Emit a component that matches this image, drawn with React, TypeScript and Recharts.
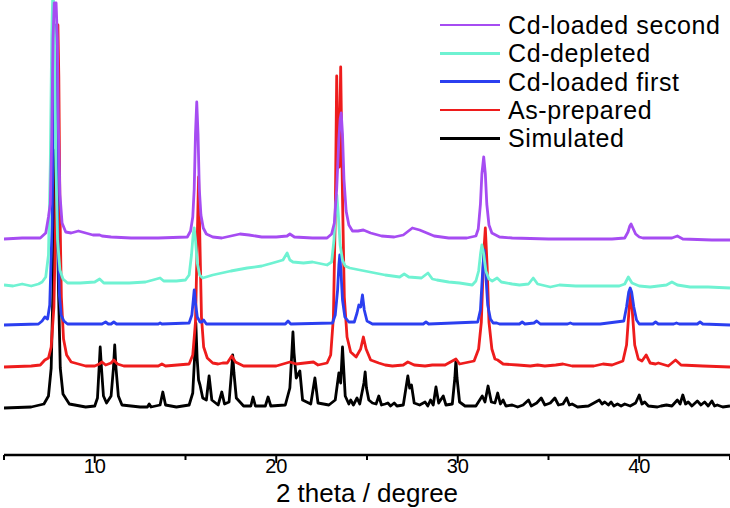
import React from 'react';
import { LineChart, Line, XAxis, YAxis } from 'recharts';

// 2-theta (degree), intensity above each pattern's own baseline (a.u.)
const simulated: [number, number][] = [
  [5, 0], [6.5, 1], [7.2, 4], [7.45, 12], [7.6, 40], [7.7, 120], [7.78, 220], [7.85, 258], [7.92, 220], [8.0, 120], [8.1, 40],
  [8.25, 14], [8.6, 4], [9.5, 1],
  [10.0, 2], [10.15, 10], [10.24, 40], [10.3, 61], [10.37, 40], [10.48, 12], [10.65, 5], [10.9, 12], [11.03, 40], [11.1, 63],
  [11.17, 40], [11.3, 12], [11.5, 3], [12.5, 1],
  [12.9, 1], [13.0, 4], [13.1, 1], [13.6, 3], [13.75, 16], [13.9, 3], [14.5, 1], [15.2, 3], [15.4, 15], [15.5, 50], [15.57, 85],
  [15.64, 50], [15.72, 28], [15.8, 23], [15.95, 10], [16.15, 8], [16.3, 32], [16.45, 8], [16.8, 3], [17.0, 16], [17.15, 4],
  [17.4, 6], [17.53, 35], [17.6, 53], [17.67, 35], [17.8, 10],
  [18.2, 2], [18.6, 2], [18.72, 11], [18.85, 2], [19.4, 2], [19.55, 11], [19.7, 2], [20.5, 3], [20.75, 20], [20.86, 55], [20.92, 76],
  [20.98, 55], [21.1, 30], [21.3, 37], [21.45, 8], [21.9, 4], [22.13, 30], [22.3, 5], [22.9, 3], [23.25, 8], [23.45, 35], [23.55, 25],
  [23.65, 61], [23.8, 12],
  [24.0, 4], [24.1, 8], [24.25, 3], [24.45, 10], [24.6, 4], [24.83, 25], [24.9, 36], [24.97, 20], [25.1, 8], [25.3, 5], [25.5, 4],
  [25.65, 12], [25.8, 3],
  [26.0, 4], [26.15, 5], [26.3, 2], [26.5, 5], [26.65, 2], [27.0, 3], [27.25, 32], [27.35, 20], [27.45, 23], [27.6, 5], [27.9, 3],
  [28.2, 6], [28.35, 2], [28.5, 8], [28.65, 3], [28.8, 21], [28.95, 5], [29.2, 12], [29.35, 3], [29.7, 4], [29.84, 30], [29.9, 48],
  [29.96, 30], [30.1, 6],
  [30.4, 2], [31.0, 2], [31.35, 12], [31.5, 6], [31.67, 22], [31.85, 6], [32.05, 5], [32.2, 15], [32.35, 4], [32.5, 8], [32.65, 2],
  [33.0, 3], [33.3, 1], [33.6, 3], [33.9, 8], [34.05, 2], [34.35, 5], [34.6, 10], [34.8, 3], [35.1, 5], [35.35, 10], [35.55, 3],
  [35.8, 4], [36.0, 10], [36.15, 3], [36.3, 4], [36.6, 1], [37.2, 2], [37.5, 5], [37.8, 8], [37.95, 4], [38.1, 6], [38.3, 3],
  [38.45, 6], [38.6, 2], [38.8, 4], [39.0, 2], [39.2, 4], [39.5, 2], [39.8, 5], [40.0, 13], [40.15, 4], [40.3, 6], [40.5, 2],
  [41.0, 1], [41.2, 2], [41.5, 3], [41.8, 2], [42.1, 8], [42.25, 4], [42.4, 13], [42.55, 4], [42.7, 6], [42.9, 2], [43.2, 7],
  [43.4, 3], [43.6, 6], [43.8, 2], [44.0, 7], [44.15, 2], [44.3, 3], [44.6, 1], [45, 2],
];

const asPrepared: [number, number][] = [
  [5, 0], [6.5, 1], [7.0, 2], [7.25, 7], [7.45, 9], [7.6, 20], [7.75, 60], [7.85, 150], [7.92, 290], [7.97, 342], [8.02, 290],
  [8.08, 160], [8.16, 70], [8.28, 28], [8.45, 12], [8.7, 5], [9.5, 1], [10.0, 1], [10.25, 3], [10.4, 5], [10.6, 2], [10.9, 4],
  [11.05, 7], [11.25, 3], [11.6, 1],
  [13.5, 1], [13.7, 3], [13.9, 1], [15.2, 3], [15.4, 12], [15.55, 45], [15.64, 120], [15.72, 190], [15.8, 120], [15.88, 50],
  [16.0, 20], [16.2, 9], [16.5, 4], [16.8, 3], [17.05, 4], [17.3, 4], [17.55, 11], [17.75, 5], [18.2, 1], [18.8, 1], [20.0, 1],
  [20.75, 5], [21.1, 3], [22.05, 5],
  [22.3, 2], [22.8, 4], [23.0, 12], [23.15, 50], [23.25, 150], [23.33, 291], [23.42, 200], [23.47, 200], [23.55, 300],
  [23.65, 170], [23.75, 70], [23.9, 30], [24.1, 15], [24.4, 10], [24.65, 18], [24.8, 30], [24.95, 18], [25.2, 7], [25.65, 4],
  [26.0, 2], [26.4, 1], [27.0, 2], [27.25, 5], [27.6, 2],
  [28.2, 1], [28.6, 2], [29.3, 2], [29.9, 8], [30.1, 3], [30.9, 6], [31.15, 18], [31.3, 45], [31.42, 110], [31.52, 139],
  [31.62, 100], [31.72, 45], [31.88, 18], [32.05, 8], [32.2, 7], [32.5, 3], [33.3, 2], [34.0, 1], [34.4, 2], [34.8, 1],
  [35.4, 2], [35.8, 3], [36.3, 1],
  [37.5, 1], [38.0, 3], [38.5, 2], [39.1, 6], [39.3, 22], [39.43, 55], [39.52, 75], [39.62, 55], [39.75, 22], [39.95, 8],
  [40.15, 6], [40.38, 12], [40.6, 4], [40.9, 3], [41.05, 4], [41.6, 1], [42.0, 7], [42.3, 2], [43.5, 1], [45, 0],
];

const cdLoadedFirst: [number, number][] = [
  [5, 0], [6.9, 1], [7.1, 4], [7.25, 8], [7.4, 6], [7.52, 20], [7.65, 100], [7.74, 240], [7.8, 300], [7.86, 240], [7.95, 100],
  [8.05, 30], [8.15, 10], [8.3, 4], [8.5, 1], [10.4, 1], [10.6, 3], [10.75, 1], [10.9, 1], [11.05, 3], [11.2, 1], [13.5, 1],
  [13.6, 2], [13.7, 1],
  [15.2, 2], [15.35, 10], [15.43, 25], [15.48, 35], [15.55, 22], [15.65, 8], [15.8, 3], [15.9, 3], [16.0, 5], [16.15, 1],
  [20.5, 1], [20.65, 4],
  [20.8, 1], [23.1, 2], [23.25, 10], [23.38, 35], [23.45, 60], [23.5, 70], [23.56, 55], [23.65, 25], [23.78, 8], [24.0, 3],
  [24.3, 3], [24.45, 12], [24.55, 20], [24.65, 18], [24.75, 30], [24.85, 15], [25.0, 4], [25.3, 1], [28.1, 1], [28.25, 3],
  [28.4, 1], [31.1, 3],
  [31.25, 15], [31.36, 50], [31.45, 75], [31.53, 55], [31.65, 20], [31.8, 6], [31.95, 2], [32.15, 2], [32.3, 1], [33.4, 1],
  [33.55, 3], [33.7, 1],
  [34.2, 2], [34.35, 4], [34.55, 1], [36.05, 1], [36.2, 2], [36.35, 1], [37.85, 1], [39.15, 4], [39.3, 18], [39.42, 33],
  [39.5, 37], [39.58, 33], [39.7, 18], [39.85, 5], [40.0, 1], [40.75, 1], [40.9, 3], [41.05, 1], [41.9, 1], [42.05, 2],
  [42.2, 1], [43.2, 1], [43.35, 3], [43.5, 1], [45, 0],
];

const cdDepleted: [number, number][] = [
  [5, 0], [5.5, -1], [6.0, 1], [6.5, -1], [6.9, 1], [7.1, 3], [7.3, 8], [7.45, 30], [7.55, 120], [7.63, 250], [7.7, 300],
  [7.78, 250], [7.86, 120], [7.95, 45], [8.08, 15], [8.25, 6], [8.5, 2], [9.2, 2], [10.0, 3], [10.27, 6], [10.5, 2], [11.2, 2],
  [11.9, 2], [12.8, 3],
  [13.6, 7], [13.8, 4], [14.5, 4], [15.0, 5], [15.2, 10], [15.33, 30], [15.42, 50], [15.48, 57], [15.55, 45], [15.65, 22],
  [15.78, 10], [15.95, 7],
  [16.5, 10], [17.5, 14], [18.4, 17], [19.2, 19], [19.8, 22], [20.37, 25], [20.6, 32], [20.75, 25], [20.92, 23], [21.5, 22],
  [22.0, 23], [22.8, 20], [23.05, 23], [23.18, 45], [23.28, 80], [23.34, 90], [23.42, 70], [23.52, 40], [23.65, 25], [23.8, 19],
  [24.05, 17], [24.6, 15],
  [25.16, 13], [26.0, 10], [26.8, 8], [27.05, 11], [27.3, 8], [28.0, 7], [28.36, 12], [28.6, 6], [28.85, 5], [29.5, 3],
  [30.1, 2], [30.8, 0], [31.0, 4], [31.15, 14], [31.26, 32], [31.33, 40], [31.42, 32], [31.55, 14], [31.72, 6], [31.9, 4],
  [32.17, 7],
  [32.4, 3], [33.0, 1], [33.4, 0], [33.9, 1], [34.16, 7], [34.4, 1], [35.1, -2], [35.6, 0], [36.5, -1], [37.8, -1], [38.9, -1],
  [39.2, 1], [39.4, 8], [39.6, 2], [40.0, -1], [40.6, -2], [41.5, 0], [41.8, 3], [42.1, 0], [42.8, -2], [43.8, -2], [45, -3],
];

const cdLoadedSecond: [number, number][] = [
  [5, 0], [6.0, 1], [7.0, 1], [7.3, 6], [7.45, 22], [7.55, 35], [7.63, 100], [7.7, 200], [7.77, 236], [7.87, 236], [7.94, 200],
  [8.0, 110], [8.08, 45], [8.2, 16], [8.4, 7], [8.7, 6], [9.1, 8], [9.5, 6], [9.9, 4], [10.27, 4], [10.4, 3], [10.9, 2],
  [12.0, 1],
  [13.5, 1], [15.1, 2], [15.28, 8], [15.4, 22], [15.48, 50], [15.55, 105], [15.62, 137], [15.69, 105], [15.76, 50],
  [15.85, 24], [15.98, 11], [16.15, 5], [16.5, 2], [17.0, 1], [17.5, 3], [18.0, 5], [18.5, 4], [19.2, 2], [20.0, 2], [20.6, 3],
  [20.75, 5], [21.0, 2],
  [22.0, 1], [22.8, 1], [23.05, 5], [23.2, 16], [23.33, 50], [23.45, 100], [23.52, 120], [23.58, 126], [23.65, 105],
  [23.73, 60], [23.85, 28], [24.0, 14], [24.2, 8],
  [24.5, 8], [24.8, 9], [25.2, 6], [25.8, 3], [26.5, 2], [27.0, 4], [27.5, 11], [27.9, 9], [28.3, 6], [28.7, 3], [29.5, 1],
  [30.5, 1], [31.0, 3], [31.13, 10], [31.25, 35], [31.33, 65], [31.43, 82], [31.52, 65], [31.6, 35], [31.72, 14], [31.88, 6],
  [32.3, 2], [33.0, 1], [35.0, 0], [37.0, 0], [38.5, 0], [39.2, 1], [39.38, 7], [39.48, 13], [39.55, 15], [39.65, 11],
  [39.8, 5], [40.0, 2], [40.2, 1],
  [41.8, 1], [42.1, 3], [42.4, 0], [44.0, -1], [45, -1],
];

const seriesNames = ['Simulated', 'As-prepared', 'Cd-loaded first', 'Cd-depleted', 'Cd-loaded second'];
const seriesPoints = [simulated, asPrepared, cdLoadedFirst, cdDepleted, cdLoadedSecond];
const seriesOffsets = [47, 88, 130, 170, 216];
const seriesColors = ['#000000', '#ee1c1c', '#2b3ff0', '#6ff2d2', '#a64cf2'];

const xTicks = [5, 10, 15, 20, 25, 30, 35, 40, 45];
const xLabelTicks = [10, 20, 30, 40];
const xTitle = '2 theta / degree';

const FONT = '"Liberation Sans", Arial, Helvetica, sans-serif';

const Tick = (props: any) => {
  const { x, y, payload } = props;
  const major = xLabelTicks.includes(payload.value);
  return (
    <g>
      <line x1={x} x2={x} y1={y} y2={y + (major ? 8 : 5)} stroke="#000" strokeWidth={2} />
      {major && (
        <text x={x} y={y + 18} textAnchor="middle" fontSize={20} fontFamily={FONT} fill="#000">
          {payload.value}
        </text>
      )}
    </g>
  );
};

const AxisTitle = (props: any) => {
  const vb = props.viewBox || { x: 4, y: 455, width: 726, height: 53 };
  return (
    <text x={vb.x + vb.width / 2} y={502} textAnchor="middle" fontSize={26} fontFamily={FONT} fill="#000">
      {xTitle}
    </text>
  );
};

export default function App() {
  const built = seriesNames.map((name, i) => ({
    name,
    color: seriesColors[i],
    data: seriesPoints[i].map(([x, v]) => ({ x, y: v + seriesOffsets[i] })),
  }));
  const legendOrder = [...built].reverse();
  return (
    <div style={{ position: 'relative', width: 730, height: 508, background: '#fff' }}>
      <style>{`body{margin:0;}`}</style>
      <LineChart width={730} height={508} margin={{ top: 0, right: 0, left: 4, bottom: 0 }}>
        <XAxis
          dataKey="x"
          type="number"
          domain={[5, 45]}
          ticks={xTicks}
          interval={0}
          height={53}
          tickSize={0}
          tickMargin={0}
          tickLine={false}
          tick={<Tick />}
          axisLine={{ stroke: '#000', strokeWidth: 2.5 }}
          allowDataOverflow
          label={{ content: <AxisTitle /> }}
        />
        <YAxis hide type="number" domain={[0, 455]} allowDataOverflow />
        {built.map((s) => (
          <Line
            key={s.name}
            data={s.data}
            dataKey="y"
            name={s.name}
            type="linear"
            stroke={s.color}
            strokeWidth={2.8}
            strokeLinejoin="round"
            dot={false}
            activeDot={false}
            isAnimationActive={false}
          />
        ))}
      </LineChart>
      <div style={{ position: 'absolute', left: 440, top: 11, fontFamily: FONT, fontSize: 25, letterSpacing: 0.6, color: '#000' }}>
        {legendOrder.map((s) => (
          <div key={s.name} style={{ display: 'flex', alignItems: 'center', height: 28.3 }}>
            <div style={{ width: 60, height: 2.5, background: s.color, marginRight: 8 }} />
            <span style={{ lineHeight: '28px', whiteSpace: 'nowrap' }}>{s.name}</span>
          </div>
        ))}
      </div>
    </div>
  );
}
